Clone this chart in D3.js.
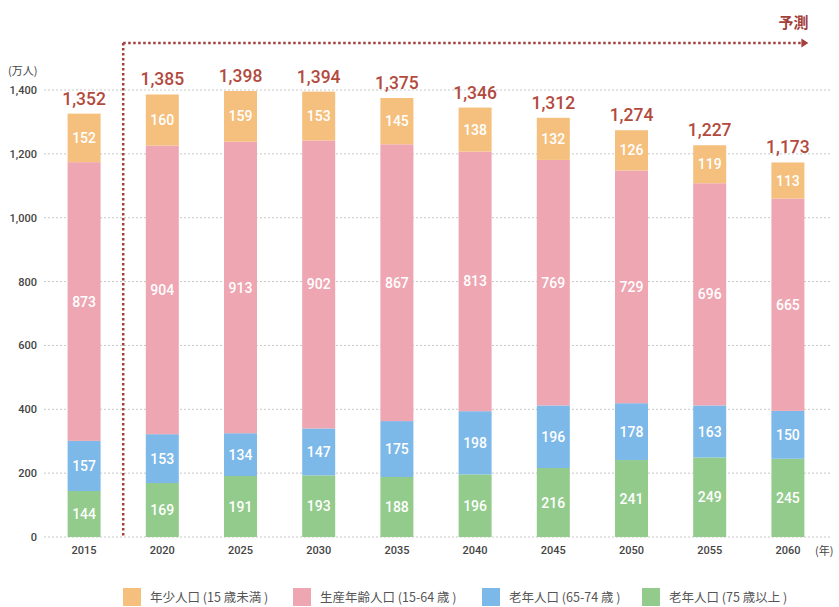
<!DOCTYPE html>
<html>
<head>
<meta charset="utf-8">
<script src="https://cdn.jsdelivr.net/npm/d3@7"></script>
<style>
  body { margin: 0; background: #fff; }
  text { font-family: Roboto, sans-serif; }
  .jp { font-family: "Noto Sans CJK JP", sans-serif; }
</style>
</head>
<body>
<svg width="839" height="607"></svg>
<script>
var svg = d3.select("svg"),
    width = +svg.attr("width"),
    height = +svg.attr("height");

// data
var years = ["2015", "2020", "2025", "2030", "2035", "2040", "2045", "2050", "2055", "2060"];
var young = [152, 160, 159, 153, 145, 138, 132, 126, 119, 113];
var working = [873, 904, 913, 902, 867, 813, 769, 729, 696, 665];
var old65 = [157, 153, 134, 147, 175, 198, 196, 178, 163, 150];
var old75 = [144, 169, 191, 193, 188, 196, 216, 241, 249, 245];
var totals = [1352, 1385, 1398, 1394, 1375, 1346, 1312, 1274, 1227, 1173];
var yTicks = [0, 200, 400, 600, 800, 1000, 1200, 1400];
var seriesNames = ["年少人口 (15 歳未満 )", "生産年齢人口 (15-64 歳 )", "老年人口 (65-74 歳 )", "老年人口 (75 歳以上 )"];

var keys = ["old75", "old65", "working", "young"];
var colors = { young: "#f5c07e", working: "#eea6b2", old65: "#7cb8e8", old75: "#92cb8b" };
var legendKeys = ["young", "working", "old65", "old75"];

var table = years.map(function(y, i) {
  return { year: y, young: young[i], working: working[i], old65: old65[i], old75: old75[i], total: totals[i] };
});

var x = d3.scaleBand()
    .domain(years)
    .range([45, 827])
    .paddingInner(0.578)
    .paddingOuter(0.289);

var y = d3.scaleLinear()
    .domain([0, 1400])
    .range([537, 90]);

// grid
svg.append("g")
  .selectAll("line")
  .data(yTicks)
  .enter().append("line")
    .attr("x1", 44)
    .attr("x2", 830)
    .attr("y1", function(d) { return y(d); })
    .attr("y2", function(d) { return y(d); })
    .attr("stroke", "#c8c8c8")
    .attr("stroke-width", 1)
    .attr("stroke-dasharray", "2,2");

// y axis labels
var yAxis = svg.append("g")
    .attr("transform", "translate(37,0)")
    .call(d3.axisLeft(y).tickValues(yTicks).tickSize(0).tickPadding(0).tickFormat(d3.format(",")));
yAxis.select(".domain").remove();
yAxis.selectAll("text")
    .attr("fill", "#444")
    .attr("font-size", 11)
    .attr("font-weight", 500)
    .style("font-family", "Roboto, sans-serif");

svg.append("text")
    .attr("class", "jp")
    .attr("x", 8)
    .attr("y", 75)
    .attr("fill", "#444")
    .attr("font-size", 11)
    .text("(万人)");

// x axis labels
var xAxis = svg.append("g")
    .attr("transform", "translate(0,543)")
    .call(d3.axisBottom(x).tickSize(0).tickPadding(3));
xAxis.select(".domain").remove();
xAxis.selectAll("text")
    .attr("fill", "#444")
    .attr("font-size", 11)
    .attr("font-weight", 500)
    .style("font-family", "Roboto, sans-serif");

svg.append("text")
    .attr("class", "jp")
    .attr("x", 815)
    .attr("y", 555)
    .attr("fill", "#444")
    .attr("font-size", 11)
    .text("(年)");

// stacked bars
var stack = d3.stack().keys(keys)(table);

var layers = svg.append("g")
  .selectAll("g")
  .data(stack)
  .enter().append("g")
    .attr("fill", function(d) { return colors[d.key]; });

layers.selectAll("rect")
  .data(function(d) { return d; })
  .enter().append("rect")
    .attr("x", function(d) { return x(d.data.year); })
    .attr("y", function(d) { return y(d[1]); })
    .attr("height", function(d) { return y(d[0]) - y(d[1]); })
    .attr("width", x.bandwidth());

layers.selectAll("text")
  .data(function(d) { return d; })
  .enter().append("text")
    .attr("x", function(d) { return x(d.data.year) + x.bandwidth() / 2; })
    .attr("y", function(d) { return (y(d[0]) + y(d[1])) / 2; })
    .attr("dy", "0.36em")
    .attr("text-anchor", "middle")
    .attr("fill", "#fff")
    .attr("font-size", 14)
    .attr("font-weight", 500)
    .text(function(d) { return d[1] - d[0]; });

// totals
svg.append("g")
  .selectAll("text")
  .data(table)
  .enter().append("text")
    .attr("x", function(d) { return x(d.year) + x.bandwidth() / 2; })
    .attr("y", function(d) { return y(d.young + d.working + d.old65 + d.old75) - 9; })
    .attr("text-anchor", "middle")
    .attr("fill", "#b34a3e")
    .attr("font-size", 17.5)
    .attr("font-weight", 500)
    .text(function(d) { return d3.format(",")(d.total); });

// forecast marker
var fx = (x("2015") + x.bandwidth() + x("2020")) / 2;
var fy = 43;
var fEnd = x("2060") + x.bandwidth() + 3;
var red = "#a3403b";

svg.append("line")
    .attr("x1", fx).attr("x2", fx)
    .attr("y1", fy).attr("y2", y(0))
    .attr("stroke", red)
    .attr("stroke-width", 2.5)
    .attr("stroke-dasharray", "2.5,2.5");

svg.append("line")
    .attr("x1", fx).attr("x2", fEnd - 4)
    .attr("y1", fy).attr("y2", fy)
    .attr("stroke", red)
    .attr("stroke-width", 2.5)
    .attr("stroke-dasharray", "2.5,2.5");

svg.append("path")
    .attr("d", "M" + (fEnd - 6) + "," + (fy - 4.5) + "L" + (fEnd + 1) + "," + fy + "L" + (fEnd - 6) + "," + (fy + 4.5) + "Z")
    .attr("fill", red);

svg.append("text")
    .attr("class", "jp")
    .attr("x", fEnd + 1)
    .attr("y", 28)
    .attr("text-anchor", "end")
    .attr("fill", red)
    .attr("font-size", 15)
    .attr("font-weight", "bold")
    .text("予測");

// legend
var legendX = [123, 293, 482, 642];
var legend = svg.append("g")
  .selectAll("g")
  .data(legendKeys)
  .enter().append("g")
    .attr("transform", function(d, i) { return "translate(" + legendX[i] + ",588)"; });

legend.append("rect")
    .attr("width", 18)
    .attr("height", 18)
    .attr("fill", function(d) { return colors[d]; });

legend.append("text")
    .attr("class", "jp")
    .attr("x", 27)
    .attr("y", 14)
    .attr("fill", "#555")
    .attr("font-size", 12.5)
    .text(function(d, i) { return seriesNames[i]; });
</script>
</body>
</html>
